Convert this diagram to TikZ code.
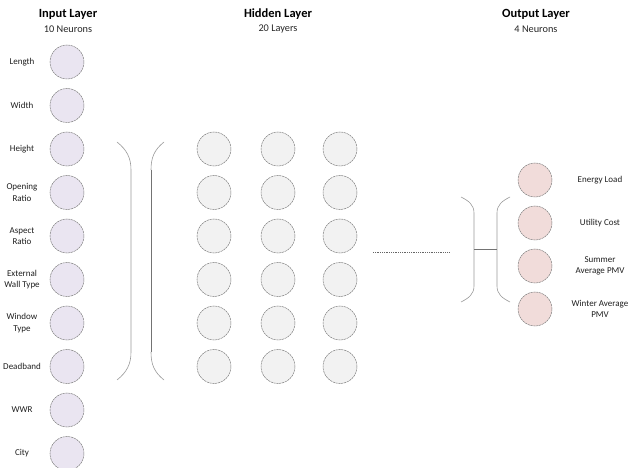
\documentclass[tikz,border=0pt]{standalone}
\usepackage{fontspec}
\setmainfont{Carlito}
\begin{document}
\begin{tikzpicture}[x=1pt,y=-1pt,
  neuron/.style={circle, minimum size=34pt, inner sep=0pt, line width=0.5pt,
    draw=black!50, dash pattern=on 2.2pt off 0.7pt},
  inneuron/.style={neuron, fill=inputfill},
  hidneuron/.style={neuron, fill=hiddenfill},
  outneuron/.style={neuron, fill=outputfill},
  title/.style={font=\fontsize{12.5}{14}\selectfont\bfseries, text=black},
  subtitle/.style={font=\fontsize{10.3}{12}\selectfont, text=black!85},
  lbl/.style={font=\fontsize{9}{11.3}\selectfont, text=black!88, align=center},
  brace/.style={draw=black!40, line width=0.6pt},
  bar/.style={draw=black!55, line width=0.8pt}]
\definecolor{inputfill}{HTML}{EAE5F1}
\definecolor{hiddenfill}{HTML}{F2F2F2}
\definecolor{outputfill}{HTML}{F1DCDA}
\useasboundingbox (0,0) rectangle (633,468);

% headings
\node[title] (tin) at (68,14) {Input Layer};
\node[subtitle] (sin) at (68,29) {10 Neurons};
\node[title] (thid) at (278,14) {Hidden Layer};
\node[subtitle] (shid) at (278,29) {20 Layers};
\node[title] (tout) at (536,14) {Output Layer};
\node[subtitle] (sout) at (536,29) {4 Neurons};

% input layer
\foreach \i/\txt in {1/Length,2/Width,3/Height,4/{Opening\\Ratio},5/{Aspect\\Ratio},
    6/{External\\Wall Type},7/{Window\\Type},8/Deadband,9/WWR,10/City}{
  \node[inneuron] (in\i) at (67,{62+43.5*(\i-1)}) {};
  \node[lbl] (inl\i) at (22,{62+43.5*(\i-1)}) {\txt};
}

% brackets in front of the hidden layer
\draw[brace] (117,142) .. controls (127,150) and (131,158) .. (131,170)
  -- (131,352) .. controls (131,364) and (127,372) .. (117,380);
\draw[bar] (151,170) -- (151,352);
\draw[brace] (164,142) .. controls (154,150) and (151,158) .. (151,170);
\draw[brace] (151,352) .. controls (151,364) and (154,372) .. (164,380);

% hidden layer
\foreach \c/\x in {1/214,2/278,3/340}{
  \foreach \r in {1,...,6}{
    \node[hidneuron] (h\c\r) at (\x,{149+43.5*(\r-1)}) {};
  }
}

% continuation
\draw[black!60, line width=0.9pt, dash pattern=on 1pt off 0.8pt] (373,252) -- (449,252);

% brackets in front of the output layer
\draw[brace] (461,197) .. controls (469,201) and (474,205) .. (474,213)
  -- (474,286) .. controls (474,294) and (469,298) .. (461,302);
\draw[brace] (510,197) .. controls (502,201) and (497,205) .. (497,213)
  -- (497,286) .. controls (497,294) and (502,298) .. (510,302);
\draw[bar] (474,249) -- (497,249);

% output layer
\foreach \i/\txt in {1/Energy Load,2/Utility Cost,3/{Summer\\Average PMV},4/{Winter Average\\PMV}}{
  \node[outneuron] (out\i) at (535,{180+43*(\i-1)}) {};
  \node[lbl] (outl\i) at (600,{180+43*(\i-1)}) {\txt};
}
\end{tikzpicture}
\end{document}
